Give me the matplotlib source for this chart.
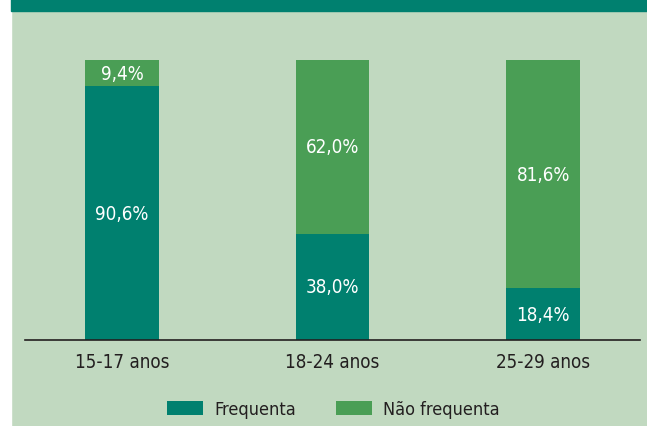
import matplotlib
matplotlib.use("agg")
import matplotlib.pyplot as plt
from matplotlib.patches import Rectangle

# data
categorias = ['15-17 anos', '18-24 anos', '25-29 anos']
frequenta = [90.6, 38.0, 18.4]
nao_frequenta = [9.4, 62.0, 81.6]
series = ['Frequenta', 'Não frequenta']

cor_freq = '#00806f'
cor_nao = '#4a9e55'
cor_fundo = '#c1d9c0'
cor_texto = '#231f20'

plt.rcParams['font.family'] = ['DejaVu Sans']
plt.rcParams['font.stretch'] = 'condensed'

fig = plt.figure(figsize=(6.47, 4.27), dpi=100)
fig.patch.set_facecolor(cor_fundo)
# white strip on the left and dark banner on top
fig.patches.append(Rectangle((0, 0), 11 / 647, 1, transform=fig.transFigure,
                             color='white', zorder=0))
fig.patches.append(Rectangle((11 / 647, 1 - 12 / 427), 1, 12 / 427,
                             transform=fig.transFigure, color=cor_freq, zorder=0))

ax = fig.add_axes([25 / 647, (427 - 341) / 427, 615 / 647, 280 / 427])
ax.set_facecolor('none')

x = range(len(categorias))
largura = 0.35
b1 = ax.bar(x, frequenta, largura, color=cor_freq, label=series[0])
b2 = ax.bar(x, nao_frequenta, largura, bottom=frequenta, color=cor_nao, label=series[1])

for i in x:
    ax.text(i, frequenta[i] / 2, ('%.1f%%' % frequenta[i]).replace('.', ','),
            ha='center', va='center', color='white', fontsize=13.5)
    ax.text(i, frequenta[i] + nao_frequenta[i] / 2,
            ('%.1f%%' % nao_frequenta[i]).replace('.', ','),
            ha='center', va='center', color='white', fontsize=13.5)

ax.set_xlim(-0.46, 2.46)
ax.set_ylim(0, 100)
ax.set_yticks([])
ax.set_xticks(list(x))
ax.set_xticklabels(categorias, fontsize=13.5, color=cor_texto)
ax.tick_params(axis='x', length=0, pad=9)
for s in ['top', 'right', 'left']:
    ax.spines[s].set_visible(False)
ax.spines['bottom'].set_color(cor_texto)
ax.spines['bottom'].set_linewidth(1.2)

fig.legend(handles=[b1, b2], labels=series, loc='center',
           bbox_to_anchor=(0.515, 1 - 410 / 427), ncol=2, frameon=False,
           fontsize=13, handlelength=2.0, handleheight=0.8, columnspacing=2.2,
           handletextpad=0.6, labelcolor=cor_texto)

fig.savefig('out.png', dpi=100, facecolor=fig.get_facecolor())
